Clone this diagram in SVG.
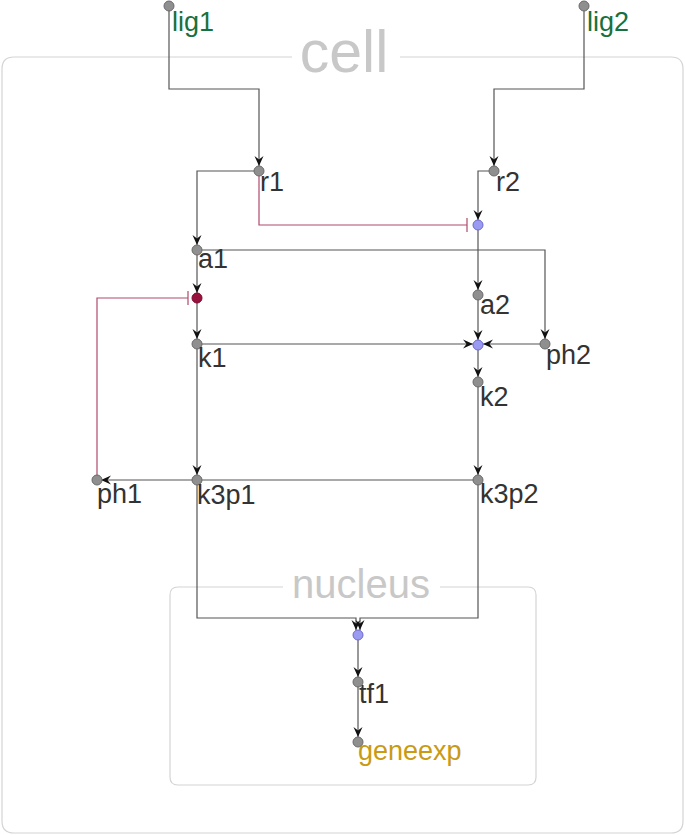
<svg xmlns="http://www.w3.org/2000/svg" width="685" height="835" viewBox="0 0 685 835">
<style>
.comp{fill:none;stroke:#d4d4d4;stroke-width:1.2}
.clabel{fill:#c8c8c8;font-family:"Liberation Sans",Arial,sans-serif;text-anchor:middle}
.e{fill:none;stroke:#555;stroke-width:1.2}
.inh{fill:none;stroke:#b04a6c;stroke-width:1.2}
.n{fill:#8f8f8f;stroke:#6a6a6a;stroke-width:1}
.pb{fill:#9a9af0;stroke:#6a6acc;stroke-width:1}
.pr{fill:#99113d;stroke:#7a0a30;stroke-width:1}
.lab{font-family:"Liberation Sans",Arial,sans-serif;font-size:27px;fill:#333}
.green{fill:#17713f}
.gold{fill:#c99a14}
</style>
<defs>
<marker id="arr" markerUnits="userSpaceOnUse" markerWidth="10" markerHeight="10" viewBox="0 0 10 10" refX="10" refY="5" orient="auto">
<path d="M0,0.5 L10,5 L0,9.5 L3.5,5 z" fill="#111"/>
</marker>
</defs>
<rect width="685" height="835" fill="#fff"/>
<g id="cell">
<path class="comp" d="M292,57 H14 Q2,57 2,69 V821 Q2,833 14,833 H671 Q683,833 683,821 V69 Q683,57 671,57 H400"/>
<text class="clabel" x="344" y="72" font-size="59">cell</text>
</g>
<g id="nucleus">
<path class="comp" d="M283,587 H178 Q170,587 170,595 V777 Q170,785 178,785 H528 Q536,785 536,777 V595 Q536,587 528,587 H440"/>
<text class="clabel" x="361" y="598" font-size="40">nucleus</text>
</g>
<g id="connectors">
<path class="e" marker-end="url(#arr)" d="M169,10 V89 H259 V166"/>
<path class="e" marker-end="url(#arr)" d="M584,10 V89 H494 V166"/>
<path class="e" marker-end="url(#arr)" d="M255,171 H197 V245"/>
<path class="e" marker-end="url(#arr)" d="M490,171 H478 V220"/>
<path class="inh" d="M259,175 V225 H467 M467,218 V232"/>
<path class="e" marker-end="url(#arr)" d="M197,254 V293"/>
<path class="e" marker-end="url(#arr)" d="M201,250 H545 V339"/>
<path class="e" marker-end="url(#arr)" d="M197,302 V339"/>
<path class="inh" d="M97,476 V298 H188 M188,291 V305"/>
<path class="e" marker-end="url(#arr)" d="M478,230 V290"/>
<path class="e" marker-end="url(#arr)" d="M478,299 V340"/>
<path class="e" marker-end="url(#arr)" d="M201,344 H473"/>
<path class="e" marker-end="url(#arr)" d="M541,344 H483"/>
<path class="e" marker-end="url(#arr)" d="M478,350 V377"/>
<path class="e" marker-end="url(#arr)" d="M197,348 V475"/>
<path class="e" marker-end="url(#arr)" d="M478,386 V475"/>
<path class="e" d="M474,480 H201"/>
<path class="e" marker-end="url(#arr)" d="M193,480 H101"/>
<path class="e" marker-end="url(#arr)" d="M197,484 V618 H356 V630"/>
<path class="e" marker-end="url(#arr)" d="M478,484 V618 H360 V630"/>
<path class="e" marker-end="url(#arr)" d="M358,640 V677"/>
<path class="e" marker-end="url(#arr)" d="M358,686 V737"/>
</g>
<g id="lig1"><circle class="n" cx="169" cy="6" r="5"/><text class="lab green" x="172" y="31">lig1</text></g>
<g id="lig2"><circle class="n" cx="584" cy="6" r="5"/><text class="lab green" x="587" y="31">lig2</text></g>
<g id="r1"><circle class="n" cx="259" cy="171" r="5"/><text class="lab" x="260" y="191">r1</text></g>
<g id="r2"><circle class="n" cx="494" cy="171" r="5"/><text class="lab" x="496" y="191">r2</text></g>
<g id="proc1"><circle class="pb" cx="478" cy="225" r="5"/></g>
<g id="a1"><circle class="n" cx="197" cy="250" r="5"/><text class="lab" x="198" y="268">a1</text></g>
<g id="proc_red"><circle class="pr" cx="197" cy="298" r="5"/></g>
<g id="a2"><circle class="n" cx="478" cy="295" r="5"/><text class="lab" x="480" y="314">a2</text></g>
<g id="proc2"><circle class="pb" cx="478" cy="345" r="5"/></g>
<g id="k1"><circle class="n" cx="197" cy="344" r="5"/><text class="lab" x="198" y="367">k1</text></g>
<g id="ph2"><circle class="n" cx="545" cy="344" r="5"/><text class="lab" x="546" y="364">ph2</text></g>
<g id="k2"><circle class="n" cx="478" cy="382" r="5"/><text class="lab" x="480" y="406">k2</text></g>
<g id="ph1"><circle class="n" cx="97" cy="480" r="5"/><text class="lab" x="97" y="503">ph1</text></g>
<g id="k3p1"><circle class="n" cx="197" cy="480" r="5"/><text class="lab" x="197" y="504">k3p1</text></g>
<g id="k3p2"><circle class="n" cx="478" cy="480" r="5"/><text class="lab" x="480" y="503">k3p2</text></g>
<g id="proc3"><circle class="pb" cx="358" cy="635" r="5"/></g>
<g id="tf1"><circle class="n" cx="358" cy="682" r="5"/><text class="lab" x="359" y="703">tf1</text></g>
<g id="geneexp"><circle class="n" cx="358" cy="742" r="5"/><text class="lab gold" x="358" y="760">geneexp</text></g>
</svg>
